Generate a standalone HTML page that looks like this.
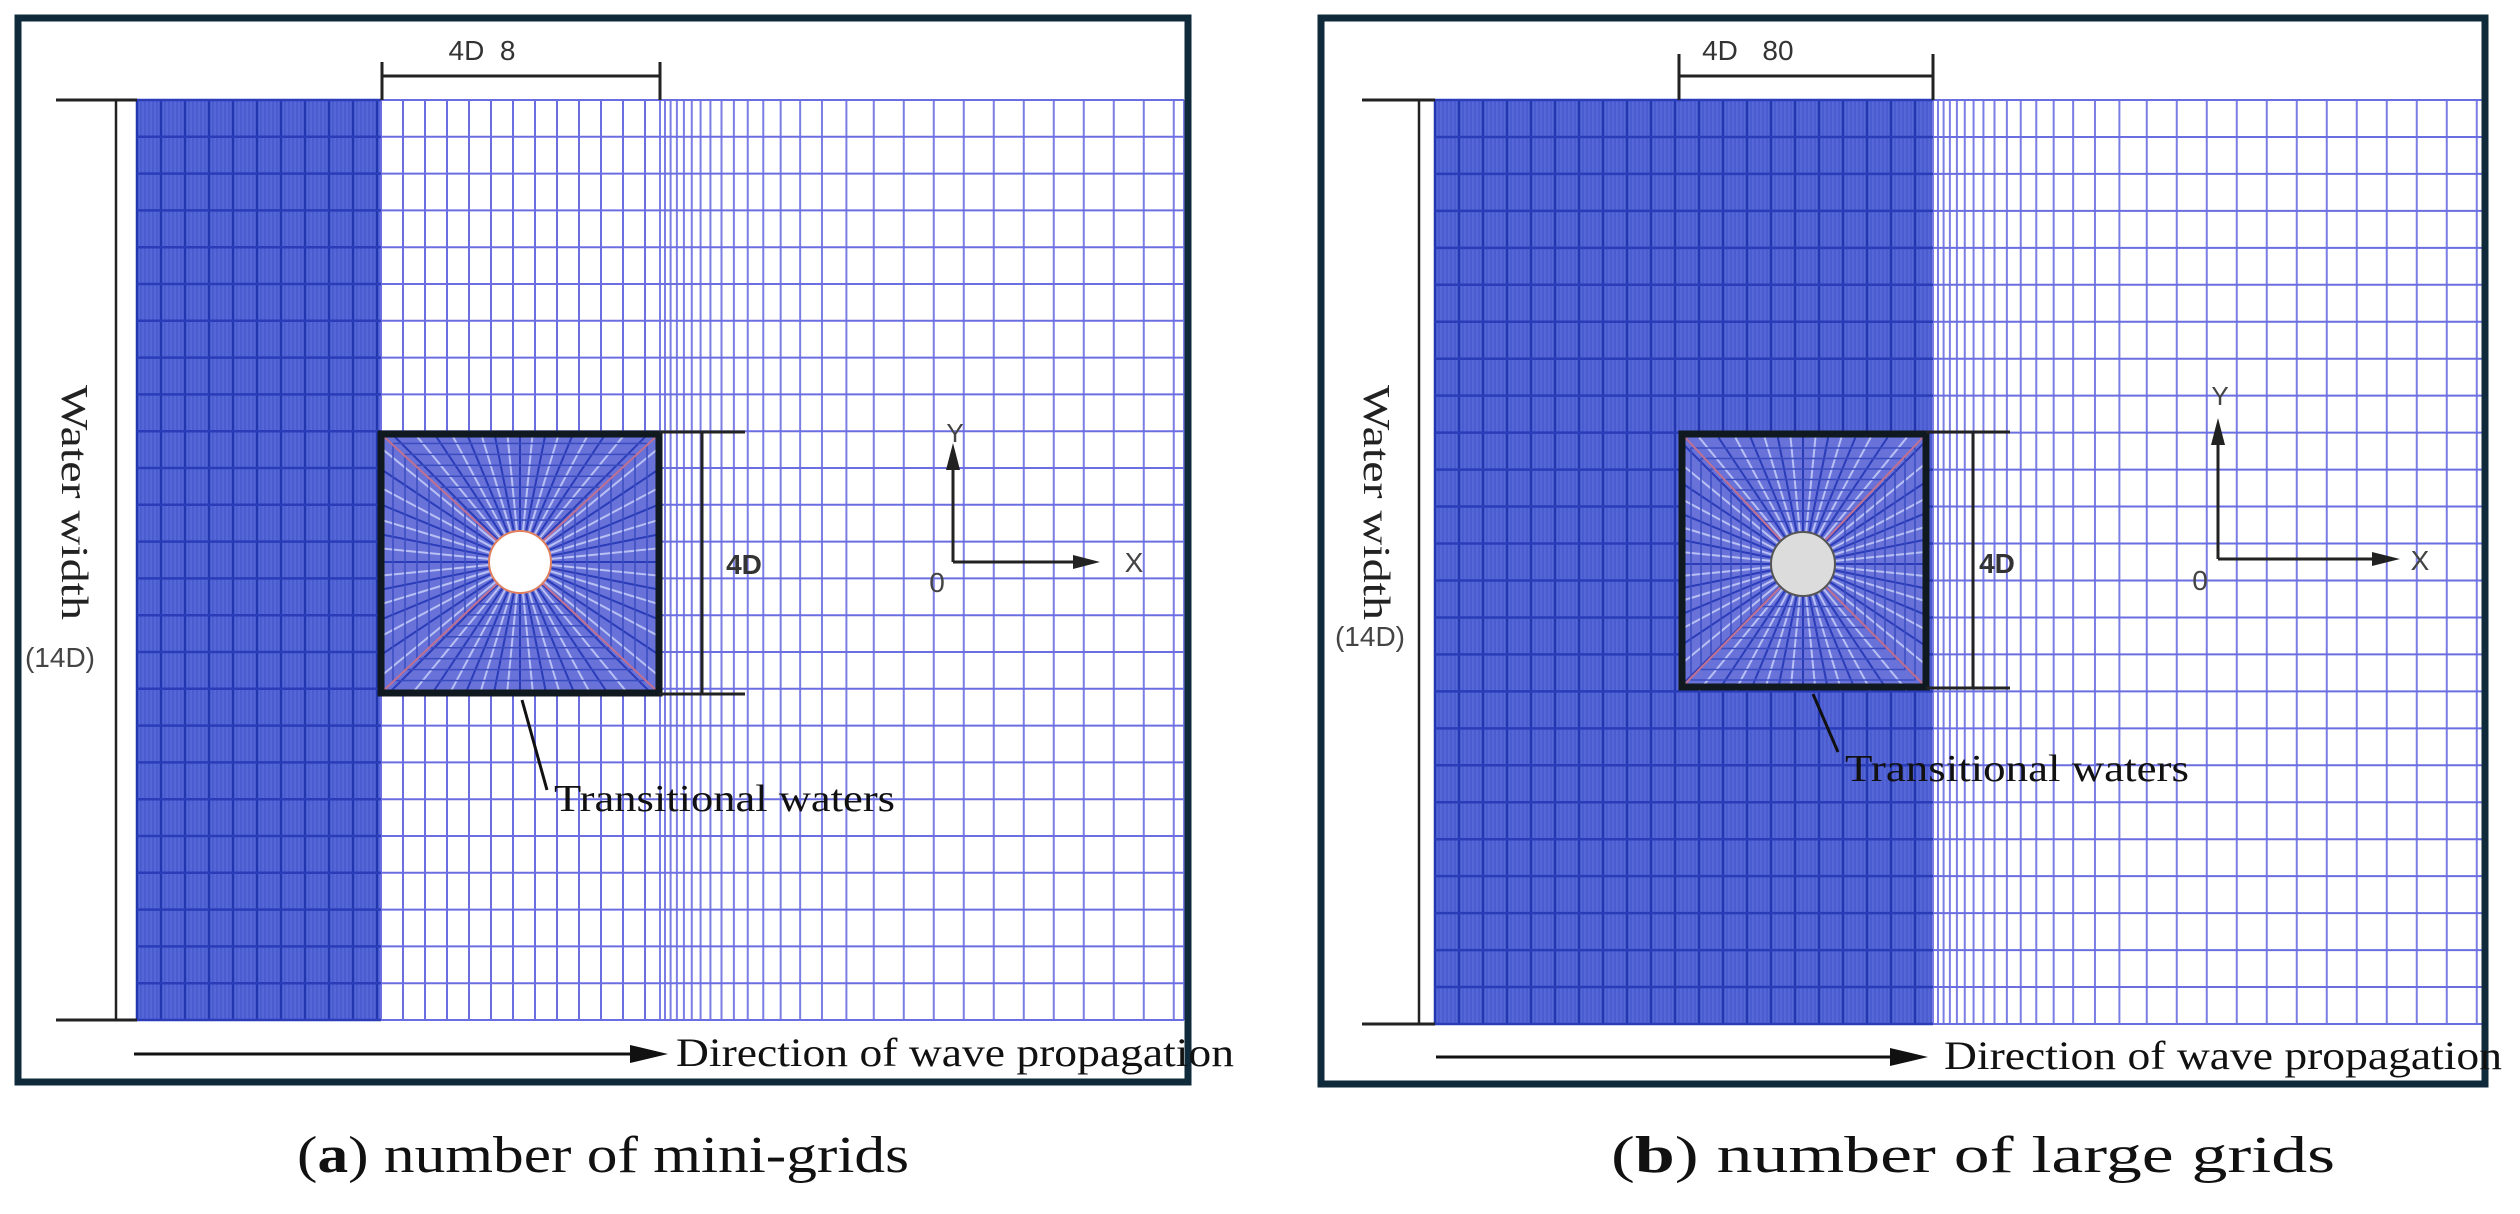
<!DOCTYPE html>
<html><head><meta charset="utf-8">
<style>
html,body{margin:0;padding:0;background:#fff;}
svg{display:block;}
.serif{font-family:"Liberation Serif",serif;}
.sans{font-family:"Liberation Sans",sans-serif;}
</style></head>
<body>
<svg id="s" width="2520" height="1214" viewBox="0 0 2520 1214" xmlns="http://www.w3.org/2000/svg">
<rect width="2520" height="1214" fill="#fff"/>
<g id="ga"></g>
<g id="gb"></g>
<!-- Panel a annotations -->
<rect x="18" y="18" width="1170" height="1064" fill="none" stroke="#0f2a3a" stroke-width="7"/>
<line x1="382" y1="76" x2="660" y2="76" stroke="#222" stroke-width="3"/>
<line x1="382" y1="62" x2="382" y2="100" stroke="#222" stroke-width="3"/>
<line x1="660" y1="62" x2="660" y2="100" stroke="#222" stroke-width="3"/>
<text x="482" y="60" class="sans" font-size="28" fill="#333" text-anchor="middle">4D&#160;&#160;8</text>
<line x1="116" y1="100" x2="116" y2="1020" stroke="#222" stroke-width="2.5"/>
<line x1="56" y1="100" x2="137" y2="100" stroke="#222" stroke-width="3"/>
<line x1="56" y1="1020" x2="137" y2="1020" stroke="#222" stroke-width="3"/>
<text transform="translate(62,385) rotate(90)" class="serif" font-size="38" fill="#222" textLength="235" lengthAdjust="spacingAndGlyphs">Water width</text>
<text x="60" y="667" class="sans" font-size="28" fill="#444" text-anchor="middle">(14D)</text>
<rect x="381" y="434" width="278" height="259" fill="none" stroke="#101820" stroke-width="7"/>
<line x1="659" y1="432" x2="745" y2="432" stroke="#222" stroke-width="3"/>
<line x1="659" y1="694" x2="745" y2="694" stroke="#222" stroke-width="3"/>
<line x1="702" y1="432" x2="702" y2="694" stroke="#222" stroke-width="3"/>
<text x="744" y="574" class="sans" font-size="28" font-weight="bold" fill="#333" text-anchor="middle">4D</text>
<line x1="953" y1="562" x2="953" y2="455" stroke="#222" stroke-width="3"/>
<polygon points="953,443 946,470 960,470" fill="#222"/>
<line x1="953" y1="562" x2="1085" y2="562" stroke="#222" stroke-width="3"/>
<polygon points="1100,562 1073,555 1073,569" fill="#222"/>
<text x="955" y="442" class="sans" font-size="26" fill="#444" text-anchor="middle">Y</text>
<text x="1134" y="572" class="sans" font-size="28" fill="#444" text-anchor="middle">X</text>
<text x="937" y="592" class="sans" font-size="28" fill="#444" text-anchor="middle">0</text>
<line x1="522" y1="700" x2="547" y2="790" stroke="#111" stroke-width="3"/>
<text x="554" y="811" class="serif" font-size="38" fill="#111" textLength="341" lengthAdjust="spacingAndGlyphs">Transitional waters</text>
<line x1="134" y1="1054" x2="640" y2="1054" stroke="#111" stroke-width="3"/>
<polygon points="668,1054 630,1045 630,1063" fill="#111"/>
<text x="676" y="1066" class="serif" font-size="40" fill="#111" textLength="558" lengthAdjust="spacingAndGlyphs">Direction of wave propagation</text>
<text x="603" y="1172" class="serif" font-size="52" fill="#111" text-anchor="middle" textLength="612" lengthAdjust="spacingAndGlyphs">(<tspan font-weight="bold">a</tspan>) number of mini-grids</text>
<!-- Panel b annotations -->
<rect x="1321" y="18" width="1164" height="1066" fill="none" stroke="#0f2a3a" stroke-width="7"/>
<line x1="1679" y1="76" x2="1933" y2="76" stroke="#222" stroke-width="3"/>
<line x1="1679" y1="54" x2="1679" y2="100" stroke="#222" stroke-width="3"/>
<line x1="1933" y1="54" x2="1933" y2="100" stroke="#222" stroke-width="3"/>
<text x="1720" y="60" class="sans" font-size="28" fill="#333" text-anchor="middle">4D</text>
<text x="1778" y="60" class="sans" font-size="28" fill="#333" text-anchor="middle">80</text>
<line x1="1419" y1="100" x2="1419" y2="1024" stroke="#222" stroke-width="2.5"/>
<line x1="1362" y1="100" x2="1435" y2="100" stroke="#222" stroke-width="3"/>
<line x1="1362" y1="1024" x2="1435" y2="1024" stroke="#222" stroke-width="3"/>
<text transform="translate(1364,385) rotate(90)" class="serif" font-size="38" fill="#222" textLength="235" lengthAdjust="spacingAndGlyphs">Water width</text>
<text x="1370" y="646" class="sans" font-size="28" fill="#444" text-anchor="middle">(14D)</text>
<rect x="1682" y="434" width="244" height="253" fill="none" stroke="#101820" stroke-width="7"/>
<line x1="1926" y1="432" x2="2010" y2="432" stroke="#222" stroke-width="3"/>
<line x1="1926" y1="688" x2="2010" y2="688" stroke="#222" stroke-width="3"/>
<line x1="1973" y1="432" x2="1973" y2="688" stroke="#222" stroke-width="3"/>
<text x="1997" y="573" class="sans" font-size="28" font-weight="bold" fill="#333" text-anchor="middle">4D</text>
<line x1="2218" y1="559" x2="2218" y2="430" stroke="#222" stroke-width="3"/>
<polygon points="2218,418 2211,445 2225,445" fill="#222"/>
<line x1="2218" y1="559" x2="2385" y2="559" stroke="#222" stroke-width="3"/>
<polygon points="2400,559 2372,552 2372,566" fill="#222"/>
<text x="2220" y="405" class="sans" font-size="26" fill="#444" text-anchor="middle">Y</text>
<text x="2420" y="570" class="sans" font-size="28" fill="#444" text-anchor="middle">X</text>
<text x="2200" y="590" class="sans" font-size="28" fill="#444" text-anchor="middle">0</text>
<line x1="1813" y1="694" x2="1838" y2="752" stroke="#111" stroke-width="3"/>
<text x="1845" y="781" class="serif" font-size="38" fill="#111" textLength="344" lengthAdjust="spacingAndGlyphs">Transitional waters</text>
<line x1="1436" y1="1057" x2="1900" y2="1057" stroke="#111" stroke-width="3"/>
<polygon points="1928,1057 1890,1048 1890,1066" fill="#111"/>
<text x="1944" y="1069" class="serif" font-size="40" fill="#111" textLength="558" lengthAdjust="spacingAndGlyphs">Direction of wave propagation</text>
<text x="1973" y="1172" class="serif" font-size="52" fill="#111" text-anchor="middle" textLength="724" lengthAdjust="spacingAndGlyphs">(<tspan font-weight="bold">b</tspan>) number of large grids</text>
</svg>
<script>
(function(){
var NS="http://www.w3.org/2000/svg";
function el(g,t,a){var e=document.createElementNS(NS,t);for(var k in a)e.setAttribute(k,a[k]);g.appendChild(e);return e;}
function panel(gid,x0,xd,xm,x1,y0,y1,box,circ,midStep,circFill){
 var g=document.getElementById(gid);
 // dense region
 el(g,"rect",{x:x0,y:y0,width:xd-x0,height:y1-y0,fill:"#5566d6"});
 for(var x=x0;x<xd;x+=4){el(g,"line",{x1:x,y1:y0,x2:x,y2:y1,stroke:(Math.round((x-x0)/4)%6==0)?"#2236b0":"#4455cc","stroke-width":(Math.round((x-x0)/4)%6==0)?2.5:1.2});}
 // mid region
 if(xm>xd){for(var x=xd;x<=xm;x+=midStep){el(g,"line",{x1:x,y1:y0,x2:x,y2:y1,stroke:"#6a6ee0","stroke-width":2});}}
 // right region increasing spacing
 var x=xm,s=5;while(x<x1){el(g,"line",{x1:x,y1:y0,x2:x,y2:y1,stroke:"#7a7ee4","stroke-width":2});x+=s;s=Math.min(s*1.12,30);}
 el(g,"line",{x1:x1,y1:y0,x2:x1,y2:y1,stroke:"#7a7ee4","stroke-width":2});
 // horizontals
 var n=26;for(var i=0;i<n;i++){var y=y0+(y1-y0)*i/(n-1);el(g,"line",{x1:x0,y1:y,x2:xd,y2:y,stroke:"#2a3cb8","stroke-width":2.5});el(g,"line",{x1:xd,y1:y,x2:x1,y2:y,stroke:"#6a6ee0","stroke-width":2});}
 // box
 var bx=box[0],by=box[1],bw=box[2],bh=box[3];
 el(g,"rect",{x:bx,y:by,width:bw,height:bh,fill:"#6872d8"});
 var cx=circ[0],cy=circ[1],r=circ[2];
 for(var k=0;k<64;k++){var a=k/64*2*Math.PI;var dx=Math.cos(a),dy=Math.sin(a);var t=Math.min(Math.abs(bw/2/(dx||1e-6)),Math.abs(bh/2/(dy||1e-6)));
  el(g,"line",{x1:cx+dx*r,y1:cy+dy*r,x2:cx+dx*t,y2:cy+dy*t,stroke:(k%2)?"#b8c0f4":"#2a3cb8","stroke-width":2});}
 for(var j=1;j<9;j++){var f=j/9;var w=2*r+(bw-2*r)*f,h=2*r+(bh-2*r)*f;
  el(g,"rect",{x:cx-w/2,y:cy-h/2,width:w,height:h,fill:"none",stroke:"#3a4cc0","stroke-width":1.5});}
 [[bx,by],[bx+bw,by],[bx,by+bh],[bx+bw,by+bh]].forEach(function(p){el(g,"line",{x1:cx,y1:cy,x2:p[0],y2:p[1],stroke:"#c07090","stroke-width":2});});
 el(g,"circle",{cx:cx,cy:cy,r:r,fill:circFill,stroke:circFill=="#fff"?"#e08060":"#555","stroke-width":2});
}
panel("ga",137,381,660,1184,100,1020,[381,434,278,259],[520,562,31],22,"#fff");
panel("gb",1435,1933,1933,2483,100,1024,[1682,434,244,253],[1803,564,32],22,"#dcdcdc");
})();
</script>
</body></html>
